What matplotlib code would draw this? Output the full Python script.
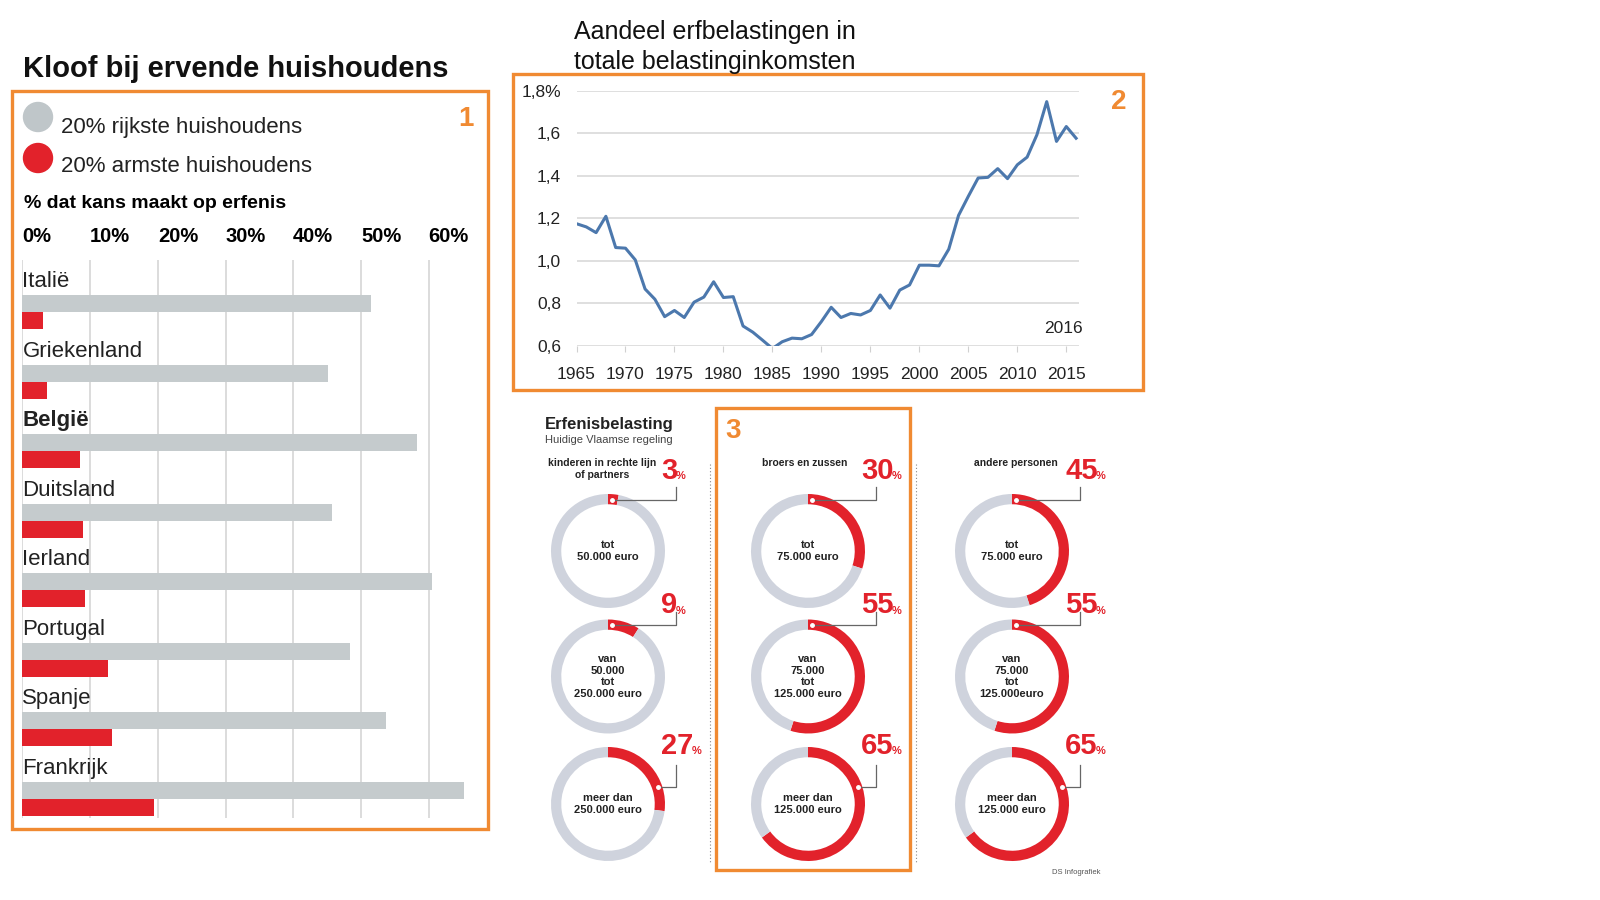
import matplotlib
matplotlib.use('Agg')
import matplotlib.pyplot as plt
from matplotlib.patches import Rectangle, Circle

plt.rcParams['font.family'] = ['Liberation Sans', 'DejaVu Sans']

# ---- panel 1: kans op erfenis (%)
countries = ['Italië', 'Griekenland', 'België', 'Duitsland',
             'Ierland', 'Portugal', 'Spanje', 'Frankrijk']
rich_pct = [51.5, 45.2, 58.3, 45.8, 60.5, 48.4, 53.7, 65.3]
poor_pct = [3.0, 3.6, 8.5, 9.0, 9.3, 12.6, 13.2, 19.4]
pct_ticks = [0, 10, 20, 30, 40, 50, 60]

# ---- panel 2: aandeel erfbelastingen (%)
years = list(range(1965, 2017))
share = [1.175, 1.16, 1.133, 1.21, 1.063, 1.06, 1.005, 0.868, 0.82, 0.738,
         0.767, 0.734, 0.806, 0.83, 0.902, 0.828, 0.832, 0.694, 0.665, 0.627,
         0.588, 0.62, 0.637, 0.634, 0.654, 0.715, 0.782, 0.734, 0.753, 0.746,
         0.767, 0.84, 0.778, 0.863, 0.887, 0.98, 0.98, 0.977, 1.055, 1.214,
         1.304, 1.39, 1.393, 1.434, 1.387, 1.452, 1.488, 1.593, 1.749, 1.562,
         1.632, 1.577]
share_ticks = [0.6, 0.8, 1.0, 1.2, 1.4, 1.6, 1.8]
share_labels = ['0,6', '0,8', '1,0', '1,2', '1,4', '1,6', '1,8%']
year_ticks = list(range(1965, 2016, 5))

# ---- panel 3: Vlaamse erfbelasting
groups = ['kinderen in rechte lijn\nof partners', 'broers en zussen', 'andere personen']
brackets = [['tot\n50.000 euro', 'van\n50.000\ntot\n250.000 euro', 'meer dan\n250.000 euro'],
            ['tot\n75.000 euro', 'van\n75.000\ntot\n125.000 euro', 'meer dan\n125.000 euro'],
            ['tot\n75.000 euro', 'van\n75.000\ntot\n125.000euro', 'meer dan\n125.000 euro']]
rates = [[3, 9, 27], [30, 55, 65], [45, 55, 65]]

W, H = 1600, 900
ORANGE = '#f08a32'
RED = '#e2222b'
GREY_BAR = '#c5cbcd'
GREY_RING = '#cfd3dd'


def px_axes(fig, x0, y0, x1, y1):
    """axes from pixel box (top-left origin)"""
    ax = fig.add_axes([x0 / W, 1 - y1 / H, (x1 - x0) / W, (y1 - y0) / H])
    ax.patch.set_visible(False)
    return ax


fig = plt.figure(figsize=(16, 9), dpi=100)
bg = fig.add_axes([0, 0, 1, 1])
bg.set_xlim(0, W)
bg.set_ylim(H, 0)
bg.axis('off')

# ================= 1. bar chart =================
bg.text(23, 69, 'Kloof bij ervende huishoudens', fontsize=21, fontweight='bold',
        va='center', ha='left', color='#111111')
bg.add_patch(Rectangle((12, 91), 476, 738, fill=False, ec=ORANGE, lw=2.4))
bg.text(466, 119, '1', color=ORANGE, fontsize=20, fontweight='bold', ha='center', va='center')
bg.add_patch(Circle((38, 117), 14.5, color='#bfc6c9'))
bg.add_patch(Circle((38, 158), 14.5, color=RED))
bg.text(61, 127, '20% rijkste huishoudens', fontsize=16, va='center', color='#222222')
bg.text(61, 167, '20% armste huishoudens', fontsize=16, va='center', color='#222222')
bg.text(24, 203, '% dat kans maakt op erfenis', fontsize=14, fontweight='bold', va='center')

ax1 = px_axes(fig, 22.4, 260, 480, 818)
pos = list(range(len(countries)))
ax1.barh([p + 0.346 for p in pos], rich_pct, height=0.245, color=GREY_BAR, zorder=2)
ax1.barh([p + 0.591 for p in pos], poor_pct, height=0.245, color=RED, zorder=2)
for p, name in zip(pos, countries):
    ax1.text(0, p + 0.03, name, fontsize=16, va='center', ha='left', color='#222222',
             fontweight='bold' if name == 'België' else 'normal', zorder=3)
ax1.set_xlim(0, (480 - 22.4) / 6.77)
ax1.set_ylim(7.747, -0.282)
ax1.xaxis.tick_top()
ax1.set_xticks(pct_ticks)
ax1.set_xticklabels([f'{t}%' for t in pct_ticks], fontsize=14.5, fontweight='bold', ha='left')
ax1.tick_params(axis='x', length=0, pad=10)
ax1.set_yticks([])
ax1.grid(axis='x', color='#d2d2d2', lw=1.1, zorder=0)
for s in ax1.spines.values():
    s.set_visible(False)

# ================= 2. line chart =================
bg.text(574, 20, 'Aandeel erfbelastingen in\ntotale belastinginkomsten', fontsize=18,
        va='top', ha='left', linespacing=1.3, color='#111111')
bg.add_patch(Rectangle((513, 74), 630, 316, fill=False, ec=ORANGE, lw=2.4))
bg.text(1119, 102, '2', color=ORANGE, fontsize=20, fontweight='bold', ha='center', va='center')

ax2 = px_axes(fig, 576.5, 90.8, 1078.6, 346)
ax2.plot(years, share, color='#4c78ad', lw=2.2, zorder=3)
ax2.set_xlim(1965, 1965 + (1078.6 - 576.5) / 9.796)
ax2.set_ylim(0.6, 1.8)
ax2.set_yticks(share_ticks)
ax2.set_yticklabels(share_labels, fontsize=12.5, color='#222222')
ax2.set_xticks(year_ticks)
ax2.set_xticklabels([str(y) for y in year_ticks], fontsize=12.5, color='#222222')
ax2.tick_params(axis='y', length=0, pad=11)
ax2.tick_params(axis='x', length=4, color='#d0d0d0', pad=11)
ax2.grid(axis='y', color='#d9d9d9', lw=1.2, zorder=0)
ax2.set_axisbelow(True)
for s in ax2.spines.values():
    s.set_visible(False)
ax2.text(0.97, 0.07, '2016', transform=ax2.transAxes, fontsize=12.5, ha='center',
         va='center', color='#222222')

# ================= 3. donuts =================
bg.text(545, 424, 'Erfenisbelasting', fontsize=12, fontweight='bold', va='center', color='#222222')
bg.text(545, 440, 'Huidige Vlaamse regeling', fontsize=8, va='center', color='#444444')
bg.add_patch(Rectangle((716, 408), 194, 462, fill=False, ec=ORANGE, lw=2.4))
bg.text(733, 431, '3', color=ORANGE, fontsize=20, fontweight='bold', ha='center', va='center')
for xs in (710, 916):
    bg.plot([xs, xs], [464, 862], color='#888888', lw=0.8, ls=(0, (1, 2)))
bg.text(1076, 872, 'DS Infografiek', fontsize=5.5, ha='center', va='center', color='#555555')

col_x = [608, 808, 1012]
row_y = [551, 676.5, 804]
header_x = [602, 805, 1016]
R = 57
lim = 1.05
label_y = [1.41, 1.25, 1.02]

for c in range(3):
    bg.text(header_x[c], 463 if c else 469, groups[c], fontsize=7.5, fontweight='bold',
            ha='center', va='center', linespacing=1.2, color='#222222')
    for r in range(3):
        cx, cy = col_x[c], row_y[r]
        ax = px_axes(fig, cx - R * lim, cy - R * lim, cx + R * lim, cy + R * lim)
        ax.pie([rates[c][r], 100 - rates[c][r]], colors=[RED, GREY_RING], startangle=90,
               counterclock=False, radius=1, wedgeprops=dict(width=0.18, lw=0))
        ax.set_xlim(-lim, lim)
        ax.set_ylim(-lim, lim)
        ax.set_aspect('equal')
        ax.axis('off')
        ax.text(0, 0, brackets[c][r], fontsize=8, fontweight='bold', ha='center',
                va='center', linespacing=1.2, color='#222222')
        # leader line
        if r < 2:
            lx, ly = [0.07, 1.2, 1.2], [0.9, 0.9, 1.13]
        else:
            lx, ly = [0.87, 1.2, 1.2], [0.3, 0.3, 0.68]
        ax.plot(lx, ly, color='#666666', lw=0.9, clip_on=False)
        ax.plot(lx[0], ly[0], 'o', ms=2.5, mfc='white', mec='white', clip_on=False)
        num = ax.text(0.93, label_y[r], str(rates[c][r]), fontsize=21, fontweight='bold',
                      color=RED, ha='left', va='center')
        ax.annotate('%', xy=(1, 0.12), xycoords=num, fontsize=8, fontweight='bold',
                    color=RED, ha='left', va='bottom', xytext=(-1, 0),
                    textcoords='offset points')

fig.savefig('out.png', dpi=100)
